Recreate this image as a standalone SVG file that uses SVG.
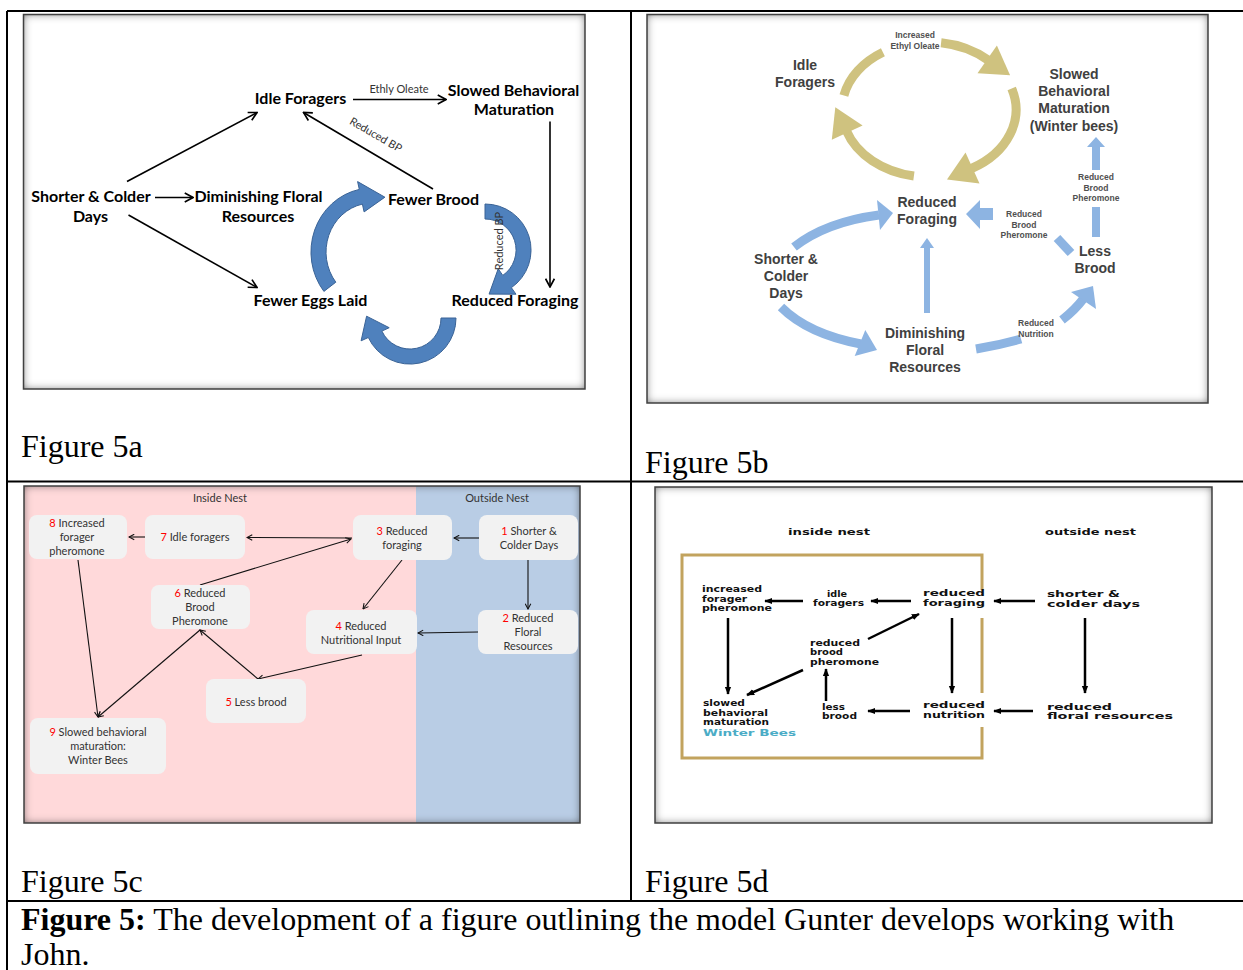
<svg xmlns="http://www.w3.org/2000/svg" width="1243" height="970" viewBox="0 0 1243 970">
<defs>
<style>
.cap{font-family:"Liberation Serif","Times New Roman",serif;font-size:32px;fill:#000}
.a{font-family:Lato,"Liberation Sans",sans-serif;font-weight:bold;font-size:16px;fill:#000;text-anchor:middle}
.as{font-family:Lato,"Liberation Sans",sans-serif;font-size:11px;fill:#333;text-anchor:middle}
.ln{stroke:#000;stroke-width:1.6;fill:none}
.bl{fill:#4F81BD;stroke:#3A6396;stroke-width:1}
.b{font-family:"Liberation Sans",Arial,sans-serif;font-weight:bold;font-size:14px;fill:#404040;text-anchor:middle}
.bs{font-family:"Liberation Sans",Arial,sans-serif;font-weight:bold;font-size:8.5px;fill:#505050;text-anchor:middle}
.tan{stroke:#CFC27F;stroke-width:9;fill:none}
.tanh{fill:#CFC27F}
.lb{stroke:#8DB4E2;stroke-width:9;fill:none}
.lbh{fill:#8DB4E2}
.c{font-family:Lato,"Liberation Sans",sans-serif;font-size:11px;fill:#333;text-anchor:middle}
.n{fill:#F2F2F2}
.r{fill:#FF0000}
.cl{stroke:#111;stroke-width:1.1;fill:none}
.d{font-family:"DejaVu Sans","Liberation Sans",sans-serif;font-weight:bold;font-size:8px;fill:#111}
.dl{stroke:#000;stroke-width:2.5;fill:none}
.frame{fill:none;stroke:#404040;stroke-width:1.5}
.tbl{stroke:#000;stroke-width:2;fill:none}
</style>
<filter id="inner" x="-5%" y="-5%" width="110%" height="110%">
<feFlood flood-color="#3a3a3a"/>
<feComposite operator="out" in2="SourceGraphic"/>
<feGaussianBlur stdDeviation="4"/>
<feComposite operator="atop" in2="SourceGraphic"/>
</filter>
<marker id="ma" viewBox="0 0 10 10" refX="9" refY="5" markerWidth="11" markerHeight="11" markerUnits="userSpaceOnUse" orient="auto">
<path d="M1.5 1 L9 5 L1.5 9" fill="none" stroke="#000" stroke-width="1.5"/>
</marker>
<marker id="mc" viewBox="0 0 10 10" refX="9" refY="5" markerWidth="7" markerHeight="7" markerUnits="userSpaceOnUse" orient="auto">
<path d="M1.5 1 L9 5 L1.5 9" fill="none" stroke="#111" stroke-width="1.5"/>
</marker>
<marker id="md" viewBox="0 0 10 10" refX="9" refY="5" markerWidth="8" markerHeight="8" markerUnits="userSpaceOnUse" orient="auto">
<path d="M0 1 L10 5 L0 9 Z" fill="#000"/>
</marker>
</defs>
<rect width="1243" height="970" fill="#fff"/>

<!-- table -->
<g id="table">
<path class="tbl" d="M7 11 H1243 M7 11 V970 M631 11 V901 M7 481.5 H1243 M7 901 H1243"/>
</g>

<!-- ===== Figure 5a ===== -->
<g id="fig5a-frame">
<rect x="23.5" y="14.5" width="561.5" height="374.5" fill="#fff" filter="url(#inner)"/>
<rect x="23.5" y="14.5" width="561.5" height="374.5" class="frame"/>
</g>
<g id="fig5a-connectors">
<path class="ln" d="M127 181.5 L257 112.5" marker-end="url(#ma)"/>
<path class="ln" d="M128.5 215 L257 287.5" marker-end="url(#ma)"/>
<path class="ln" d="M155 197.5 L193 197.5" marker-end="url(#ma)"/>
<path class="ln" d="M353 99.5 L446 99.5" marker-end="url(#ma)"/>
<path class="ln" d="M433 189 L303.5 112.5" marker-end="url(#ma)"/>
<path class="ln" d="M550 121.5 L550 287" marker-end="url(#ma)"/>
<path class="bl" d="M323.9 291.4 A61 64 0 0 1 359.3 189.4 L357.6 181.6 L384.9 197.2 L364.1 211.9 L362.4 204.1 A46 49 0 0 0 335.8 282.2 Z"/>
<path class="bl" d="M485 204 A46 46 0 0 1 511.4 287.7 L516 294.2 L489.1 294.1 L498.2 268.8 L502.8 275.4 A31 31 0 0 0 485 219 Z"/>
<path class="bl" d="M456 318 A46 46 0 0 1 368.3 337.5 L361.1 340.8 L366.6 316.2 L389.2 327.7 L381.9 331.1 A31 31 0 0 0 441 318 Z"/>
<text class="as" x="399" y="92.5">Ethly Oleate</text>
<text class="as" transform="translate(374 138) rotate(30)" x="0" y="0">Reduced BP</text>
<text class="as" transform="translate(503 241) rotate(-90)" x="0" y="0">Reduced BP</text>
</g>
<g id="a-idle"><text class="a" x="300.5" y="104">Idle Foragers</text></g>
<g id="a-slowed"><text class="a" x="513.5" y="95.5">Slowed Behavioral</text><text class="a" x="514" y="115">Maturation</text></g>
<g id="a-shorter"><text class="a" x="91" y="201.5">Shorter &amp; Colder</text><text class="a" x="90.5" y="221.5">Days</text></g>
<g id="a-dimin"><text class="a" x="258.5" y="201.5">Diminishing Floral</text><text class="a" x="258" y="221.5">Resources</text></g>
<g id="a-brood"><text class="a" x="433.5" y="205">Fewer Brood</text></g>
<g id="a-eggs"><text class="a" x="310.5" y="306">Fewer Eggs Laid</text></g>
<g id="a-forag"><text class="a" x="515" y="306">Reduced Foraging</text></g>
<text class="cap" x="21" y="457">Figure 5a</text>

<!-- ===== Figure 5b ===== -->
<g id="fig5b-frame">
<rect x="647" y="14.5" width="561" height="388.5" fill="#fff" filter="url(#inner)"/>
<rect x="647" y="14.5" width="561" height="388.5" class="frame"/>
</g>
<g id="fig5b-connectors">
<path class="tan" d="M843.9 95.5 A87 67.5 0 0 1 882.9 52.3"/>
<path class="tan" d="M941.1 42.7 A87 67.5 0 0 1 988 60"/>
<polygon class="tanh" points="977.5,73.2 1010.1,75.3 996.9,45.4"/>
<path class="tan" d="M1011.7 88.6 A87 67.5 0 0 1 971.5 168.5"/>
<polygon class="tanh" points="965.5,152.4 947,179.4 979.5,183.4"/>
<path class="tan" d="M913.9 176 A87 67.5 0 0 1 846.5 131"/>
<polygon class="tanh" points="862.6,125.4 835.3,107.3 831.8,139.8"/>
<path class="lb" d="M794 247 Q826 222 879 215"/>
<polygon class="lbh" points="877,200 893,213 880,230"/>
<path class="lb" d="M781 307 Q808 334 861 344"/>
<polygon class="lbh" points="854.7,355.9 877,350 865.3,330.1"/>
<path class="lbh" d="M924 313 V248 H920 L927 238 L934 248 H930 V313 Z"/>
<path class="lb" d="M976 349 Q1000 345 1021 339"/>
<path class="lb" d="M1062 320 Q1075 310 1084 298"/>
<polygon class="lbh" points="1071,292 1093,286 1096,309"/>
<path class="lb" d="M1057 238 L1071 253"/>
<path class="lbh" d="M993 208 H980 V200 L966 214 L980 229 V220 H993 Z"/>
<rect class="lbh" x="1092" y="207" width="8" height="30"/>
<path class="lbh" d="M1092 170 V147 H1087 L1096 137 L1105 147 H1100 V170 Z"/>
<text class="bs" x="915" y="38">Increased</text><text class="bs" x="915" y="48.5">Ethyl Oleate</text>
<text class="bs" x="1096" y="180">Reduced</text><text class="bs" x="1096" y="190.5">Brood</text><text class="bs" x="1096" y="201">Pheromone</text>
<text class="bs" x="1024" y="217">Reduced</text><text class="bs" x="1024" y="227.5">Brood</text><text class="bs" x="1024" y="238">Pheromone</text>
<text class="bs" x="1036" y="326">Reduced</text><text class="bs" x="1036" y="336.5">Nutrition</text>
</g>
<g id="b-idle"><text class="b" x="805" y="70">Idle</text><text class="b" x="805" y="87">Foragers</text></g>
<g id="b-slowed"><text class="b" x="1074" y="78.5">Slowed</text><text class="b" x="1074" y="96">Behavioral</text><text class="b" x="1074" y="113">Maturation</text><text class="b" x="1074" y="130.5">(Winter bees)</text></g>
<g id="b-forag"><text class="b" x="927" y="207">Reduced</text><text class="b" x="927" y="224">Foraging</text></g>
<g id="b-less"><text class="b" x="1095" y="256">Less</text><text class="b" x="1095" y="273">Brood</text></g>
<g id="b-shorter"><text class="b" x="786" y="263.5">Shorter &amp;</text><text class="b" x="786" y="281">Colder</text><text class="b" x="786" y="298">Days</text></g>
<g id="b-dimin"><text class="b" x="925" y="338">Diminishing</text><text class="b" x="925" y="355">Floral</text><text class="b" x="925" y="372">Resources</text></g>
<text class="cap" x="645" y="473">Figure 5b</text>

<!-- ===== Figure 5c ===== -->
<g id="fig5c-frame">
<g filter="url(#inner)">
<rect x="24" y="486" width="392" height="337" fill="#FFD9DA"/>
<rect x="416" y="486" width="164" height="337" fill="#B9CDE5"/>
</g>
<rect x="24" y="486" width="556" height="337" class="frame"/>
<text class="c" x="220" y="502">Inside Nest</text>
<text class="c" x="497" y="502">Outside Nest</text>
</g>
<g id="fig5c-connectors">
<path class="cl" d="M479 538 L454 538" marker-end="url(#mc)"/>
<path class="cl" d="M352 538 L247 537.5" marker-end="url(#mc)"/>
<path class="cl" d="M145 537 L129 537" marker-end="url(#mc)"/>
<path class="cl" d="M200 585 L351 539" marker-end="url(#mc)"/>
<path class="cl" d="M402 560 L363 609" marker-end="url(#mc)"/>
<path class="cl" d="M528 560 L528 609" marker-end="url(#mc)"/>
<path class="cl" d="M478 632 L418 633" marker-end="url(#mc)"/>
<path class="cl" d="M362 655 L258 679" marker-end="url(#mc)"/>
<path class="cl" d="M258 679 L200 630" marker-end="url(#mc)"/>
<path class="cl" d="M200 630 L98 717" marker-end="url(#mc)"/>
<path class="cl" d="M78 560 L98 717" marker-end="url(#mc)"/>
</g>
<g id="c8"><rect class="n" x="29" y="515" width="98" height="44" rx="8"/><text class="c" x="77" y="527"><tspan class="r">8</tspan> Increased</text><text class="c" x="77" y="541">forager</text><text class="c" x="77" y="555">pheromone</text></g>
<g id="c7"><rect class="n" x="145" y="515" width="100" height="44" rx="8"/><text class="c" x="195" y="541"><tspan class="r">7</tspan> Idle foragers</text></g>
<g id="c3"><rect class="n" x="353" y="515" width="99" height="45" rx="8"/><text class="c" x="402" y="535"><tspan class="r">3</tspan> Reduced</text><text class="c" x="402" y="549">foraging</text></g>
<g id="c1"><rect class="n" x="479" y="515" width="99" height="45" rx="8"/><text class="c" x="529" y="535"><tspan class="r">1</tspan> Shorter &amp;</text><text class="c" x="529" y="549">Colder Days</text></g>
<g id="c6"><rect class="n" x="151" y="585" width="99" height="44" rx="8"/><text class="c" x="200" y="597"><tspan class="r">6</tspan> Reduced</text><text class="c" x="200" y="611">Brood</text><text class="c" x="200" y="625">Pheromone</text></g>
<g id="c4"><rect class="n" x="306" y="610" width="111" height="44" rx="8"/><text class="c" x="361" y="630"><tspan class="r">4</tspan> Reduced</text><text class="c" x="361" y="644">Nutritional Input</text></g>
<g id="c2"><rect class="n" x="478" y="610" width="100" height="44" rx="8"/><text class="c" x="528" y="622"><tspan class="r">2</tspan> Reduced</text><text class="c" x="528" y="636">Floral</text><text class="c" x="528" y="650">Resources</text></g>
<g id="c5"><rect class="n" x="206" y="679" width="100" height="44" rx="8"/><text class="c" x="256" y="706"><tspan class="r">5</tspan> Less brood</text></g>
<g id="c9"><rect class="n" x="30" y="718" width="136" height="56" rx="8"/><text class="c" x="98" y="736"><tspan class="r">9</tspan> Slowed behavioral</text><text class="c" x="98" y="750">maturation:</text><text class="c" x="98" y="764">Winter Bees</text></g>
<text class="cap" x="21" y="892">Figure 5c</text>

<!-- ===== Figure 5d ===== -->
<g id="fig5d-frame">
<rect x="655" y="487" width="557" height="336" fill="#fff" filter="url(#inner)"/>
<rect x="655" y="487" width="557" height="336" class="frame"/>
<path d="M982 590 V555 H682 V758 H982 V727 M982 618 V693" fill="none" stroke="#C2A35E" stroke-width="3"/>
<text class="d" x="788" y="535" textLength="82" lengthAdjust="spacingAndGlyphs">inside nest</text>
<text class="d" x="1045" y="535" textLength="91" lengthAdjust="spacingAndGlyphs">outside nest</text>
</g>
<g id="fig5d-connectors">
<path class="dl" d="M1035 601 L994 601" marker-end="url(#md)"/>
<path class="dl" d="M911 601 L871 601" marker-end="url(#md)"/>
<path class="dl" d="M803 601 L765 601" marker-end="url(#md)"/>
<path class="dl" d="M728 618 L728 694" marker-end="url(#md)"/>
<path class="dl" d="M868 639 L919 614" marker-end="url(#md)"/>
<path class="dl" d="M803 670 L747 695" marker-end="url(#md)"/>
<path class="dl" d="M826 701 L826 669" marker-end="url(#md)"/>
<path class="dl" d="M952 618 L952 693" marker-end="url(#md)"/>
<path class="dl" d="M910 711 L868 711" marker-end="url(#md)"/>
<path class="dl" d="M1033 711 L994 711" marker-end="url(#md)"/>
<path class="dl" d="M1085 618 L1085 693" marker-end="url(#md)"/>
</g>
<g id="d-incr"><text class="d" x="702" y="592" textLength="60" lengthAdjust="spacingAndGlyphs">increased</text><text class="d" x="702" y="601.5" textLength="45" lengthAdjust="spacingAndGlyphs">forager</text><text class="d" x="702" y="611" textLength="70" lengthAdjust="spacingAndGlyphs">pheromone</text></g>
<g id="d-idle"><text class="d" x="827" y="596.5" textLength="20" lengthAdjust="spacingAndGlyphs">idle</text><text class="d" x="813" y="606" textLength="51" lengthAdjust="spacingAndGlyphs">foragers</text></g>
<g id="d-forag"><text class="d" x="923" y="596" textLength="62" lengthAdjust="spacingAndGlyphs">reduced</text><text class="d" x="923" y="605.5" textLength="62" lengthAdjust="spacingAndGlyphs">foraging</text></g>
<g id="d-shorter"><text class="d" x="1047" y="597" textLength="73" lengthAdjust="spacingAndGlyphs">shorter &amp;</text><text class="d" x="1047" y="606.5" textLength="93" lengthAdjust="spacingAndGlyphs">colder days</text></g>
<g id="d-brood"><text class="d" x="810" y="645.5" textLength="50" lengthAdjust="spacingAndGlyphs">reduced</text><text class="d" x="810" y="655" textLength="33" lengthAdjust="spacingAndGlyphs">brood</text><text class="d" x="810" y="664.5" textLength="69" lengthAdjust="spacingAndGlyphs">pheromone</text></g>
<g id="d-slowed"><text class="d" x="703" y="706" textLength="42" lengthAdjust="spacingAndGlyphs">slowed</text><text class="d" x="703" y="715.5" textLength="65" lengthAdjust="spacingAndGlyphs">behavioral</text><text class="d" x="703" y="725" textLength="66" lengthAdjust="spacingAndGlyphs">maturation</text><text class="d" x="703" y="736" textLength="93" lengthAdjust="spacingAndGlyphs" style="fill:#4BACC6;font-size:9.5px">Winter Bees</text></g>
<g id="d-less"><text class="d" x="822" y="709.5" textLength="23" lengthAdjust="spacingAndGlyphs">less</text><text class="d" x="822" y="719" textLength="35" lengthAdjust="spacingAndGlyphs">brood</text></g>
<g id="d-nutr"><text class="d" x="923" y="708" textLength="62" lengthAdjust="spacingAndGlyphs">reduced</text><text class="d" x="923" y="717.5" textLength="62" lengthAdjust="spacingAndGlyphs">nutrition</text></g>
<g id="d-floral"><text class="d" x="1047" y="709.5" textLength="65" lengthAdjust="spacingAndGlyphs">reduced</text><text class="d" x="1047" y="719" textLength="126" lengthAdjust="spacingAndGlyphs">floral resources</text></g>
<text class="cap" x="645" y="892">Figure 5d</text>

<!-- caption -->
<g id="caption">
<text class="cap" x="21" y="930"><tspan font-weight="bold">Figure 5:</tspan> The development of a figure outlining the model Gunter develops working with</text>
<text class="cap" x="21" y="965">John.</text>
</g>
</svg>
